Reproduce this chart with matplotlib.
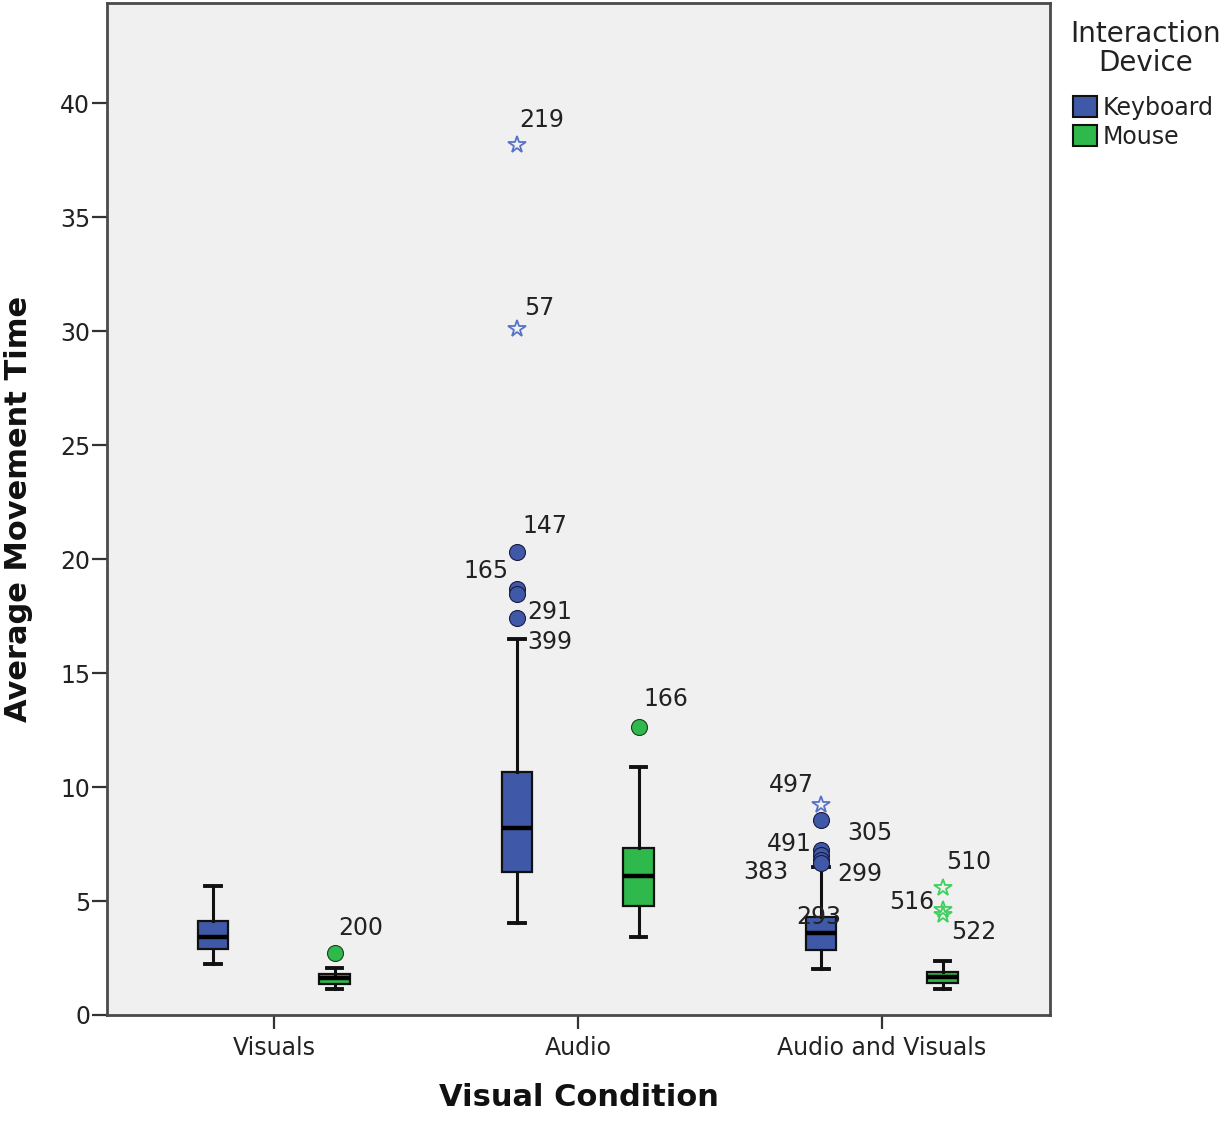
import matplotlib
matplotlib.use("Agg")
import matplotlib.pyplot as plt
from matplotlib.patches import Patch

# ---------------- data ----------------
categories = ["Visuals", "Audio", "Audio and Visuals"]
devices = ["Keyboard", "Mouse"]
legend_title = "Interaction\nDevice"

kb_lo = [2.24, 4.03, 2.00]
kb_q1 = [2.88, 6.27, 2.85]
kb_med = [3.40, 8.20, 3.60]
kb_q3 = [4.12, 10.66, 4.32]
kb_hi = [5.66, 16.50, 6.50]

ms_lo = [1.14, 3.42, 1.14]
ms_q1 = [1.38, 4.78, 1.42]
ms_med = [1.62, 6.10, 1.67]
ms_q3 = [1.82, 7.32, 1.90]
ms_hi = [2.06, 10.90, 2.37]

# outliers: category index, device index, value, case id, kind (o = outlier, * = extreme)
out_cat = [1, 1, 1, 1, 1, 1, 1, 0, 2, 2, 2, 2, 2, 2, 2, 2, 2]
out_dev = [0, 0, 0, 0, 0, 0, 1, 1, 0, 0, 0, 0, 0, 0, 1, 1, 1]
out_val = [38.16, 30.10, 20.30, 18.70, 18.45, 17.40, 12.63, 2.72,
           9.20, 8.55, 7.25, 7.00, 6.80, 6.65, 5.57, 4.60, 4.40]
out_id = ["219", "57", "147", "165", "399", "291", "166", "200",
          "497", "305", "491", "383", "299", "293", "510", "516", "522"]
out_kind = ["*", "*", "o", "o", "o", "o", "o", "o",
            "*", "o", "o", "o", "o", "o", "*", "*", "*"]

# ---------------- layout / style ----------------
# label offsets in pixels (dx, dy, horizontal alignment)
label_offsets = [(2, 25, "left"), (7, 21, "left"), (5, 26, "left"), (-9, 18, "right"),
                 (10, -48, "left"), (10, 6, "left"), (5, 28, "left"), (4, 25, "left"),
                 (-7, 20, "right"), (26, -13, "left"), (-9, 6, "right"), (-33, -17, "right"),
                 (16, -14, "left"), (-2, -54, "center"), (3, 26, "left"), (-8, 8, "right"),
                 (8, -17, "left")]

box_colors = ["#3f59a8", "#2fb84b"]
star_colors = ["#5672c9", "#3dd05c"]
dev_offset = [-0.2, 0.2]

plt.rcParams["font.family"] = ["DejaVu Sans"]

fig = plt.figure(figsize=(12.25, 11.21), dpi=100)
ax = fig.add_axes([107 / 1225, 1 - 1015 / 1121, (1050 - 107) / 1225, (1015 - 3) / 1121])
ax.set_facecolor("#f0f0f0")

stats_by_dev = [
    (kb_lo, kb_q1, kb_med, kb_q3, kb_hi),
    (ms_lo, ms_q1, ms_med, ms_q3, ms_hi),
]
for d, (lo, q1, med, q3, hi) in enumerate(stats_by_dev):
    stats = []
    for i in range(len(categories)):
        stats.append(dict(whislo=lo[i], q1=q1[i], med=med[i], q3=q3[i], whishi=hi[i],
                          fliers=[], label=categories[i]))
    positions = [i + dev_offset[d] for i in range(len(categories))]
    ax.bxp(stats, positions=positions, widths=0.1, capwidths=0.05, patch_artist=True,
           showfliers=False, manage_ticks=False,
           boxprops=dict(facecolor=box_colors[d], edgecolor="#111111", linewidth=1.6),
           medianprops=dict(color="#000000", linewidth=3.2, solid_capstyle="butt"),
           whiskerprops=dict(color="#111111", linewidth=2.2),
           capprops=dict(color="#111111", linewidth=2.8))

for k in range(len(out_val)):
    x = out_cat[k] + dev_offset[out_dev[k]]
    y = out_val[k]
    if out_kind[k] == "o":
        ax.plot([x], [y], marker="o", markersize=11.5, markerfacecolor=box_colors[out_dev[k]],
                markeredgecolor="#1a1a40" if out_dev[k] == 0 else "#1a401a",
                markeredgewidth=0.8, linestyle="none", zorder=4)
    else:
        ax.plot([x], [y], marker="*", markersize=13, markerfacecolor="none",
                markeredgecolor=star_colors[out_dev[k]], markeredgewidth=1.3,
                linestyle="none", zorder=4)
    dx, dy, ha = label_offsets[k]
    ax.annotate(out_id[k], (x, y), xytext=(dx, dy), textcoords="offset pixels",
                ha=ha, va="center", fontsize=17, color="#222222", zorder=5)

ax.set_xlim(-0.549, 2.553)
ax.set_ylim(0, 44.39)
ax.set_xticks(range(len(categories)))
ax.set_xticklabels(categories)
ax.set_yticks([0, 5, 10, 15, 20, 25, 30, 35, 40])
ax.tick_params(axis="y", direction="out", length=11, width=1.6, pad=1,
               labelsize=17, colors="#333333", labelcolor="#222222")
ax.tick_params(axis="x", direction="out", length=10, width=1.6, pad=5,
               labelsize=17, colors="#333333", labelcolor="#222222")
for s in ax.spines.values():
    s.set_color("#4a4a4a")
    s.set_linewidth(2.0)

ax.set_ylabel("Average Movement Time", fontsize=22, fontweight="bold", color="#111111")
ax.yaxis.set_label_coords(-74 / 943, 0.5)
ax.set_xlabel("Visual Condition", fontsize=22, fontweight="bold", color="#111111")
ax.xaxis.set_label_coords(0.5, -68 / 1012)

fig.text(1146 / 1225, 1 - 20 / 1121, legend_title, ha="center", va="top", fontsize=20,
         multialignment="center", linespacing=1.05, color="#222222")

handles = [Patch(facecolor=box_colors[i], edgecolor="#111111", linewidth=1.5) for i in range(2)]
leg = ax.legend(handles, devices, loc="upper left",
                bbox_to_anchor=(1073 / 1225, 1 - 96 / 1121), bbox_transform=fig.transFigure,
                frameon=False, fontsize=17, handlelength=1.0,
                handleheight=1.0, handletextpad=0.25, labelspacing=0.2, borderpad=0,
                borderaxespad=0)
for t in leg.get_texts():
    t.set_color("#222222")

fig.savefig("out.png", dpi=100, facecolor="white")
